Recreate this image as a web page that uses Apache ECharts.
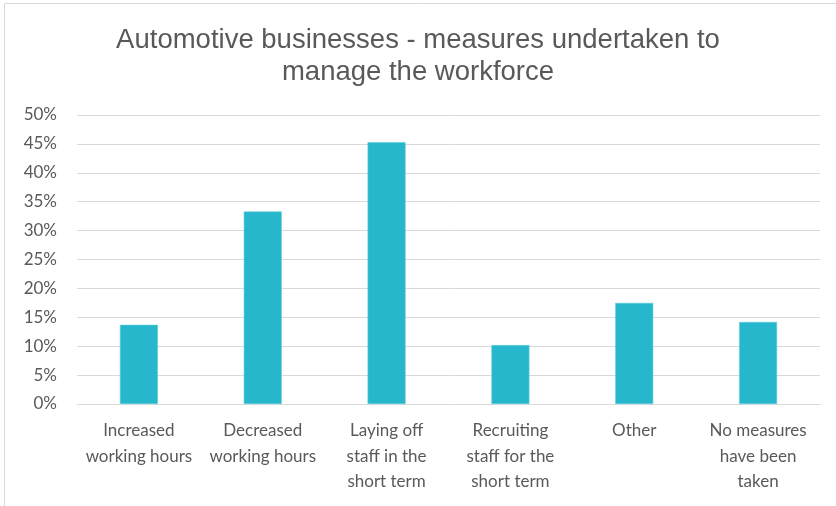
<!DOCTYPE html>
<html>
<head>
<meta charset="utf-8">
<script src="https://cdn.jsdelivr.net/npm/echarts@6/dist/echarts.min.js"></script>
<style>
html,body{margin:0;padding:0;background:#fff;}
#chart{width:836px;height:506px;}
</style>
</head>
<body>
<div id="chart"></div>
<script>
const titleText = 'Automotive businesses - measures undertaken to\nmanage the workforce';
const categories = [
  'Increased\nworking hours',
  'Decreased\nworking hours',
  'Laying off\nstaff in the\nshort term',
  'Recruiting\nstaff for the\nshort term',
  'Other',
  'No measures\nhave been\ntaken'
];
const values = [13.7, 33.3, 45.3, 10.2, 17.5, 14.2];
const yTicks = { min: 0, max: 50, interval: 5 };

const chart = echarts.init(document.getElementById('chart'));
chart.setOption({
  animation: false,
  backgroundColor: '#fff',
  graphic: [{
    type: 'rect',
    shape: { x: 4.5, y: 3.5, width: 840, height: 510 },
    style: { fill: 'none', stroke: '#d9d9d9', lineWidth: 1 },
    silent: true
  }],
  title: {
    text: titleText,
    left: 'center',
    top: 19,
    textStyle: {
      fontFamily: 'Liberation Sans',
      fontSize: 27.5,
      fontWeight: 'normal',
      color: '#595959',
      lineHeight: 32
    }
  },
  grid: { left: 77, right: 16, top: 115, bottom: 102, containLabel: false },
  xAxis: {
    type: 'category',
    data: categories,
    axisLine: { lineStyle: { color: '#d9d9d9', width: 1 } },
    axisTick: { show: false },
    axisLabel: {
      interval: 0,
      margin: 14,
      color: '#595959',
      fontFamily: 'Lato',
      fontSize: 17,
      lineHeight: 25.5
    }
  },
  yAxis: {
    type: 'value',
    min: yTicks.min,
    max: yTicks.max,
    interval: yTicks.interval,
    axisLine: { show: false },
    axisTick: { show: false },
    splitLine: { lineStyle: { color: '#d9d9d9', width: 1 } },
    axisLabel: {
      margin: 20,
      color: '#595959',
      fontFamily: 'Lato',
      fontSize: 17,
      formatter: v => v + '%'
    }
  },
  series: [{
    type: 'bar',
    data: values,
    barWidth: 38,
    itemStyle: { color: '#27b7cc', borderColor: '#5fcfdd', borderWidth: 0.6 }
  }]
});
</script>
</body>
</html>
